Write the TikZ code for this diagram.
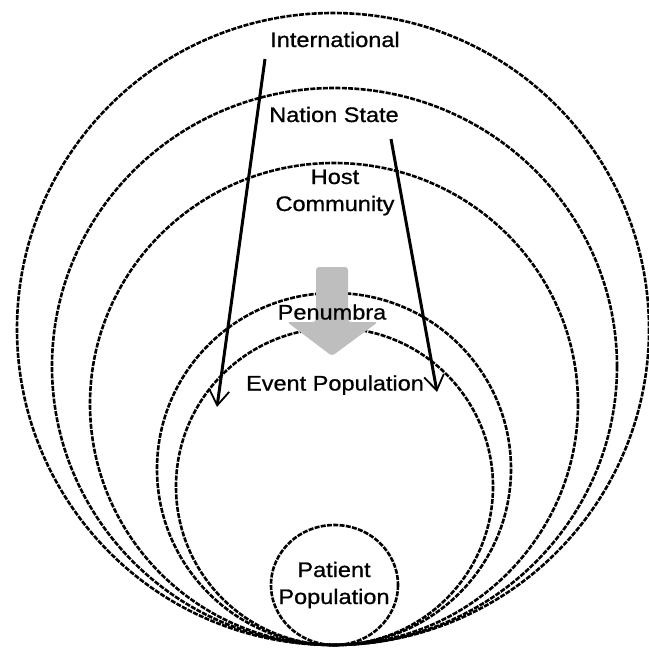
\documentclass[tikz,border=0pt]{standalone}
\usepackage{fontspec}
\setmainfont{Liberation Sans}[FakeStretch=1.12,FakeBold=0.8]
\usetikzlibrary{arrows.meta}
\definecolor{blockgray}{RGB}{190,190,190}
\begin{document}
\begin{tikzpicture}[x=1pt,y=-1pt,
  ring/.style={draw=black, line width=2.6pt, dash pattern=on 5pt off 1.3pt},
  lbl/.style={font=\fontsize{21}{27}\selectfont, align=center, inner sep=0pt, text height=15pt, text depth=0pt},
  flow/.style={line width=3pt, -{Straight Barb[length=15pt,width=20pt,line width=1.8pt]}},
  block/.style={fill=blockgray, rounded corners=3pt}
]
\useasboundingbox (0,0) rectangle (649,648);
% nested rings, all tangent at the bottom
\draw[ring] (333,329) ellipse [x radius=316, y radius=316];
\draw[ring] (334.5,366.5) ellipse [x radius=282.5, y radius=278.5];
\draw[ring] (334,404) ellipse [x radius=244, y radius=241];
\draw[ring] (334,469) ellipse [x radius=177, y radius=176];
\draw[ring] (334.5,486.5) ellipse [x radius=158.5, y radius=158.5];
\draw[ring] (334.5,585) ellipse [x radius=63.5, y radius=60];
% grey block arrow
\fill[block] (316,267) -- (348,267) -- (348,322) -- (378,322) -- (332,356) -- (287,322) -- (316,322) -- cycle;
% labels
\node[lbl] (intl) at (335,39.5) {International};
\node[lbl] (nation) at (334,114.5) {Nation State};
\node[lbl] (host) at (335,203.5) {Host\\Community};
\node[lbl] (pen) at (332,312) {Penumbra};
\node[lbl] (event) at (335,383) {Event Population};
\node[lbl] (patient) at (334,596.5) {Patient\\Population};
% thin arrows
\coordinate (a1s) at (265,59);
\coordinate (a1e) at (217,407);
\coordinate (a2s) at (391,139);
\coordinate (a2e) at (437,392);
\draw[flow] (a1s) -- (a1e);
\draw[flow] (a2s) -- (a2e);
\end{tikzpicture}
\end{document}
